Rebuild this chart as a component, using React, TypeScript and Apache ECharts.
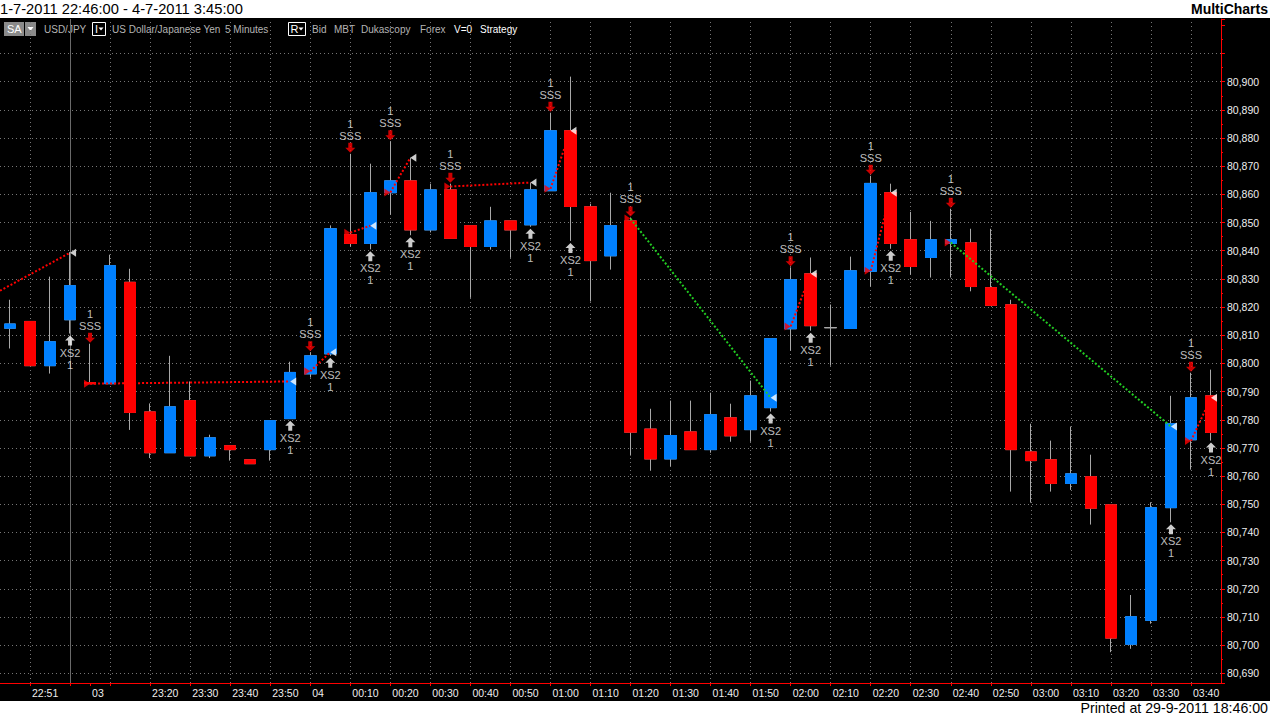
import React, { useEffect, useRef } from "react";
import * as echarts from "echarts";

// ---------- data ----------
const times = [
  "22:46", "22:51", "22:56", "23:01", "23:05", "23:10", "23:15", "23:20", "23:25", "23:30", "23:35",
  "23:40", "23:45", "23:50", "23:55", "00:00", "00:05", "00:10", "00:15", "00:20", "00:25", "00:30",
  "00:35", "00:40", "00:45", "00:50", "00:55", "01:00", "01:05", "01:10", "01:15", "01:20", "01:25",
  "01:30", "01:35", "01:40", "01:45", "01:50", "01:55", "02:00", "02:05", "02:10", "02:15", "02:20",
  "02:25", "02:30", "02:35", "02:40", "02:45", "02:50", "02:55", "03:00", "03:05", "03:10", "03:15",
  "03:20", "03:25", "03:30", "03:35", "03:40", "03:45",
];

const tickLabels = [
  "", "22:51", "", "", "03", "", "", "23:20", "", "23:30", "", "23:40", "", "23:50", "", "04",
  "", "00:10", "", "00:20", "", "00:30", "", "00:40", "", "00:50", "", "01:00", "", "01:10", "",
  "01:20", "", "01:30", "", "01:40", "", "01:50", "", "02:00", "", "02:10", "", "02:20", "", "02:30",
  "", "02:40", "", "02:50", "", "03:00", "", "03:10", "", "03:20", "", "03:30", "", "03:40", "",
];

const tickIdx = [1, 3, 4, 5, 7, 9, 11, 13, 15, 17, 19, 21, 23, 25, 27, 29, 31, 33, 35, 37, 39, 41, 43, 45, 47, 49, 51, 53, 55, 57, 59];
const gridXIdx = [1, 5, 7, 9, 11, 13, 15, 17, 19, 21, 23, 25, 27, 29, 31, 33, 35, 37, 39, 41, 43, 45, 47, 49, 51, 53, 55, 57, 59];
const sessionBreakIdx = [3];
const gridPrices = [80.69, 80.7, 80.71, 80.72, 80.73, 80.74, 80.75, 80.76, 80.77, 80.78, 80.79, 80.8, 80.81, 80.82, 80.83, 80.84, 80.85, 80.86, 80.87, 80.88, 80.89, 80.9, 80.91];

const opens = [
  80.8125, 80.8149, 80.7992, 80.8155, 80.7932, 80.7928, 80.8288, 80.7828, 80.7683, 80.7868, 80.7672,
  80.7708, 80.7658, 80.7694, 80.7804, 80.7963, 80.8034, 80.8457, 80.8426, 80.8606, 80.8648, 80.8474,
  80.8616, 80.8489, 80.8415, 80.8506, 80.8492, 80.8613, 80.8826, 80.8556, 80.8382, 80.8506, 80.7767,
  80.7661, 80.7757, 80.7694, 80.7807, 80.7765, 80.7843, 80.8123, 80.8318, 80.8127, 80.8124, 80.8327,
  80.8606, 80.8439, 80.8376, 80.8426, 80.8428, 80.8269, 80.8208, 80.7686, 80.7658, 80.7574, 80.7598,
  80.7498, 80.7003, 80.7088, 80.7488, 80.7729, 80.7885,
];
const closes = [
  80.814, 80.7992, 80.8077, 80.8276, 80.7928, 80.8347, 80.7826, 80.7683, 80.7846, 80.7672, 80.7736,
  80.7694, 80.7644, 80.7797, 80.7968, 80.8027, 80.8478, 80.8426, 80.8606, 80.8648, 80.8474, 80.8616,
  80.8444, 80.8415, 80.8506, 80.8474, 80.8616, 80.8826, 80.8557, 80.8365, 80.8489, 80.7756, 80.7661,
  80.7744, 80.7694, 80.7818, 80.7743, 80.7885, 80.8088, 80.8297, 80.8134, 80.8127, 80.8329, 80.8639,
  80.8426, 80.8344, 80.8439, 80.8439, 80.8273, 80.8206, 80.7694, 80.7655, 80.7574, 80.7608, 80.7486,
  80.7025, 80.7101, 80.7488, 80.7786, 80.7878, 80.7755,
];
const lows = [
  80.8053, 80.7992, 80.7964, 80.8106, 80.7928, 80.7928, 80.7764, 80.7664, 80.7683, 80.7672, 80.7664,
  80.7655, 80.7644, 80.7655, 80.7804, 80.795, 80.8027, 80.8415, 80.8405, 80.8528, 80.8455, 80.8465,
  80.8444, 80.8233, 80.8404, 80.8375, 80.8485, 80.8613, 80.8435, 80.822, 80.8333, 80.7673, 80.7619,
  80.7635, 80.7694, 80.7683, 80.7722, 80.7722, 80.7829, 80.8045, 80.8116, 80.7992, 80.8124, 80.8273,
  80.8407, 80.8315, 80.8305, 80.8305, 80.8256, 80.8206, 80.7545, 80.7506, 80.7545, 80.7551, 80.7428,
  80.6975, 80.6987, 80.7076, 80.7436, 80.7623, 80.7726,
];
const highs = [
  80.8226, 80.8149, 80.8308, 80.8395, 80.807, 80.8386, 80.8336, 80.7858, 80.8027, 80.7936, 80.7747,
  80.7708, 80.7658, 80.7797, 80.8006, 80.804, 80.849, 80.8744, 80.8709, 80.8789, 80.873, 80.8638,
  80.8638, 80.8489, 80.8556, 80.8506, 80.8642, 80.889, 80.9018, 80.8567, 80.8606, 80.8518, 80.7839,
  80.7868, 80.7868, 80.7896, 80.7857, 80.7939, 80.8088, 80.8341, 80.8376, 80.8209, 80.8379, 80.8666,
  80.8638, 80.8538, 80.8506, 80.8549, 80.8478, 80.8478, 80.8226, 80.7786, 80.7726, 80.7776, 80.7676,
  80.7498, 80.7178, 80.7507, 80.7885, 80.7967, 80.7978,
];
const dojiIdx = [41];

// strategy: short entries ("SSS") and exits ("XS2")
const sssBars = [4, 15, 17, 19, 22, 27, 31, 39, 43, 47, 59];
const entryPrices = [80.7928, 80.7972, 80.8464, 80.8607, 80.8628, 80.862, 80.8514, 80.8131, 80.8329, 80.8429, 80.7725];
const xs2Bars = [3, 14, 16, 18, 20, 26, 28, 38, 40, 44, 58, 60];
const exitPrices = [80.8393, 80.7936, 80.804, 80.8489, 80.873, 80.8642, 80.8826, 80.7878, 80.8318, 80.8606, 80.7776, 80.7878];
const priorEntry = [-0.5, 80.8258]; // trade opened before the visible range

// ---------- styling ----------
const FONT = '"Liberation Sans", Arial, sans-serif';
const UP = "#0080ff";
const DOWN = "#ff0000";
const WICK = "#a8a8a8";
const AXIS_RED = "#ff0000";
const GRID = "#767676";
const LABEL = "#eeeeee";
const Y_MIN = 80.68656;
const Y_MAX = 80.92226;

const UP_ARROW = "path://M5,0 L10,5 L7,5 L7,10 L3,10 L3,5 L0,5 Z";
const DOWN_ARROW = "path://M3,0 L7,0 L7,5 L10,5 L5,10 L0,5 L3,5 Z";

function buildOption() {
  const full = times.map((_, i) => [opens[i], closes[i], lows[i], highs[i]]);
  const bodies = times.map((_, i) => {
    const v = [opens[i], closes[i], Math.min(opens[i], closes[i]), Math.max(opens[i], closes[i])];
    if (dojiIdx.includes(i)) {
      return { value: v, itemStyle: { color: WICK, color0: WICK, borderColor: WICK, borderColor0: WICK } };
    }
    return v;
  });

  const trades: { from: number[]; to: number[] }[] = xs2Bars.map((b, k) => ({
    from: k === 0 ? priorEntry : [sssBars[k - 1], entryPrices[k - 1]],
    to: [b, exitPrices[k]],
  }));

  const tradeSeries = trades.map((t, k) => ({
    type: "line",
    xAxisIndex: 1,
    yAxisIndex: 0,
    z: 4,
    silent: true,
    symbol: "none",
    data: [t.from, t.to],
    lineStyle: {
      color: t.to[1] > t.from[1] ? "#ff0000" : "#22cc22",
      width: 2,
      type: [2, 2],
    },
    ...(k === 0
      ? {
          markLine: {
            z: 1,
            silent: true,
            symbol: "none",
            label: { show: false },
            animation: false,
            data: [
              ...gridPrices.map((p) => ({ yAxis: p, lineStyle: { color: GRID, type: [1, 3], width: 1 } })),
              ...gridXIdx.map((i) => ({ xAxis: i, lineStyle: { color: GRID, type: [1, 3], width: 1 } })),
              ...sessionBreakIdx.map((i) => ({ xAxis: i, lineStyle: { color: "#6a6a6a", type: "solid", width: 1 } })),
            ],
          },
        }
      : {}),
  }));

  const txt = (text: string, x: number, y: number, fill: string, font: string, align = "left") => ({
    type: "text",
    x,
    y,
    silent: true,
    style: { text, fill, font, textAlign: align, textVerticalAlign: "middle", align, verticalAlign: "middle" },
  });

  const hdrFont = `10px ${FONT}`;

  return {
    animation: false,
    backgroundColor: "transparent",
    grid: { left: 0, right: 49, top: 19, bottom: 34, containLabel: false },
    xAxis: [
      {
        type: "category",
        data: times,
        boundaryGap: true,
        axisLine: { show: true, onZero: false, lineStyle: { color: AXIS_RED, width: 1 } },
        axisTick: {
          show: true,
          alignWithLabel: true,
          length: 3,
          interval: (i: number) => tickIdx.includes(i),
          lineStyle: { color: AXIS_RED },
        },
        axisLabel: {
          interval: 0,
          formatter: (_v: string, i: number) => tickLabels[i],
          color: LABEL,
          fontSize: 10.5,
          fontFamily: FONT,
          align: "left",
          margin: 4,
          padding: [0, 0, 0, 2],
        },
        splitLine: { show: false },
      },
      { type: "value", min: -0.5, max: 60.5, show: false, axisLine: { onZero: false } },
    ],
    yAxis: {
      type: "value",
      position: "right",
      min: Y_MIN,
      max: Y_MAX,
      splitNumber: 23,
      minInterval: 0.01,
      maxInterval: 0.01,
      axisLine: { show: true, onZero: false, lineStyle: { color: AXIS_RED, width: 1 } },
      axisTick: { show: true, length: 4, lineStyle: { color: AXIS_RED } },
      minorTick: { show: true, splitNumber: 2, length: 2, lineStyle: { color: AXIS_RED } },
      axisLabel: {
        color: LABEL,
        fontSize: 10.5,
        fontFamily: FONT,
        margin: 6,
        formatter: (v: number) => {
          const onTick = Math.abs(v * 100 - Math.round(v * 100)) < 1e-6;
          return onTick && v <= 80.9005 ? v.toFixed(3).replace(".", ",") : "";
        },
      },
      splitLine: { show: false },
      minorSplitLine: { show: false },
    },
    series: [
      {
        type: "candlestick",
        name: "wicks",
        silent: true,
        barWidth: 12,
        z: 2,
        data: full,
        itemStyle: { color: WICK, color0: WICK, borderColor: WICK, borderColor0: WICK, borderWidth: 1 },
      },
      {
        type: "candlestick",
        name: "bodies",
        silent: true,
        barWidth: 12,
        z: 3,
        data: bodies,
        itemStyle: { color: UP, color0: DOWN, borderColor: UP, borderColor0: DOWN, borderWidth: 1 },
      },
      ...tradeSeries,
      {
        type: "scatter",
        name: "entry",
        xAxisIndex: 1,
        silent: true,
        z: 5,
        symbol: "triangle",
        symbolSize: [8, 6],
        symbolRotate: -90,
        symbolOffset: [-3, 0],
        itemStyle: { color: "#ff0000" },
        data: sssBars.map((b, k) => [b, entryPrices[k]]),
      },
      {
        type: "scatter",
        name: "exit",
        xAxisIndex: 1,
        silent: true,
        z: 5,
        symbol: "triangle",
        symbolSize: [8, 6],
        symbolRotate: 90,
        symbolOffset: [3, 0],
        itemStyle: { color: "#ffffff" },
        data: xs2Bars.map((b, k) => [b, exitPrices[k]]),
      },
      {
        type: "scatter",
        name: "SSS",
        xAxisIndex: 1,
        silent: true,
        z: 6,
        symbol: DOWN_ARROW,
        symbolSize: [10, 10],
        symbolOffset: [0, -6],
        itemStyle: { color: "#ff0000" },
        label: {
          show: true,
          position: "top",
          distance: 1,
          formatter: "1\nSSS",
          color: LABEL,
          fontSize: 11,
          fontFamily: FONT,
          lineHeight: 12,
        },
        data: sssBars.map((b) => [b, highs[b]]),
      },
      {
        type: "scatter",
        name: "XS2",
        xAxisIndex: 1,
        silent: true,
        z: 6,
        symbol: UP_ARROW,
        symbolSize: [10, 10],
        symbolOffset: [0, 7],
        itemStyle: { color: "#ffffff" },
        label: {
          show: true,
          position: "bottom",
          distance: 1,
          formatter: "XS2\n1",
          color: LABEL,
          fontSize: 11,
          fontFamily: FONT,
          lineHeight: 12,
        },
        data: xs2Bars.map((b) => [b, lows[b]]),
      },
    ],
    graphic: [
      txt("1-7-2011 22:46:00 - 4-7-2011 3:45:00", 0, 9, "#000000", `14.7px ${FONT}`),
      txt("MultiCharts", 1268, 9, "#000000", `bold 14px ${FONT}`, "right"),
      txt("Printed at 29-9-2011 18:46:00", 1268, 708, "#000000", `14.2px ${FONT}`, "right"),
      { type: "rect", silent: true, shape: { x: 4, y: 22, width: 20, height: 14 }, style: { fill: "#8a8a8a" } },
      txt("SA", 7, 29, "#ffffff", `11px ${FONT}`),
      { type: "rect", silent: true, shape: { x: 25, y: 22, width: 11, height: 14 }, style: { fill: "#8a8a8a" } },
      { type: "polygon", silent: true, shape: { points: [[27.5, 27], [33.5, 27], [30.5, 31]] }, style: { fill: "#ffffff" } },
      txt("USD/JPY", 44, 29, "#b4b4b4", hdrFont),
      { type: "rect", silent: true, shape: { x: 92.5, y: 22.5, width: 13, height: 13 }, style: { fill: "none", stroke: "#ffffff", lineWidth: 1 } },
      txt("I", 95, 29, "#ffffff", `11px ${FONT}`),
      { type: "polygon", silent: true, shape: { points: [[98.5, 27.5], [103.5, 27.5], [101, 30.5]] }, style: { fill: "#ffffff" } },
      txt("US Dollar/Japanese Yen", 112, 29, "#b4b4b4", hdrFont),
      txt("5 Minutes", 225, 29, "#b4b4b4", hdrFont),
      { type: "rect", silent: true, shape: { x: 288.5, y: 22.5, width: 17, height: 13 }, style: { fill: "none", stroke: "#ffffff", lineWidth: 1 } },
      txt("R", 290.5, 29, "#ffffff", `11px ${FONT}`),
      { type: "polygon", silent: true, shape: { points: [[298.5, 27.5], [303.5, 27.5], [301, 30.5]] }, style: { fill: "#ffffff" } },
      txt("Bid", 312, 29, "#b4b4b4", hdrFont),
      txt("MBT", 334, 29, "#b4b4b4", hdrFont),
      txt("Dukascopy", 361, 29, "#b4b4b4", hdrFont),
      txt("Forex", 420, 29, "#b4b4b4", hdrFont),
      txt("V=0", 454, 29, "#ffffff", hdrFont),
      txt("Strategy", 480, 29, "#ffffff", hdrFont),
    ],
  };
}

export default function App() {
  const ref = useRef<HTMLDivElement>(null);
  useEffect(() => {
    if (!ref.current) return;
    const chart = echarts.init(ref.current, null, { renderer: "svg" });
    chart.setOption(buildOption() as any);
    return () => chart.dispose();
  }, []);
  return (
    <div style={{ position: "absolute", left: 0, top: 0, width: 1270, height: 717, background: "#ffffff", overflow: "hidden" }}>
      <div style={{ position: "absolute", left: 0, top: 18, width: 1270, height: 683, background: "#000000" }} />
      <div ref={ref} style={{ position: "absolute", left: 0, top: 0, width: 1270, height: 717 }} />
    </div>
  );
}
